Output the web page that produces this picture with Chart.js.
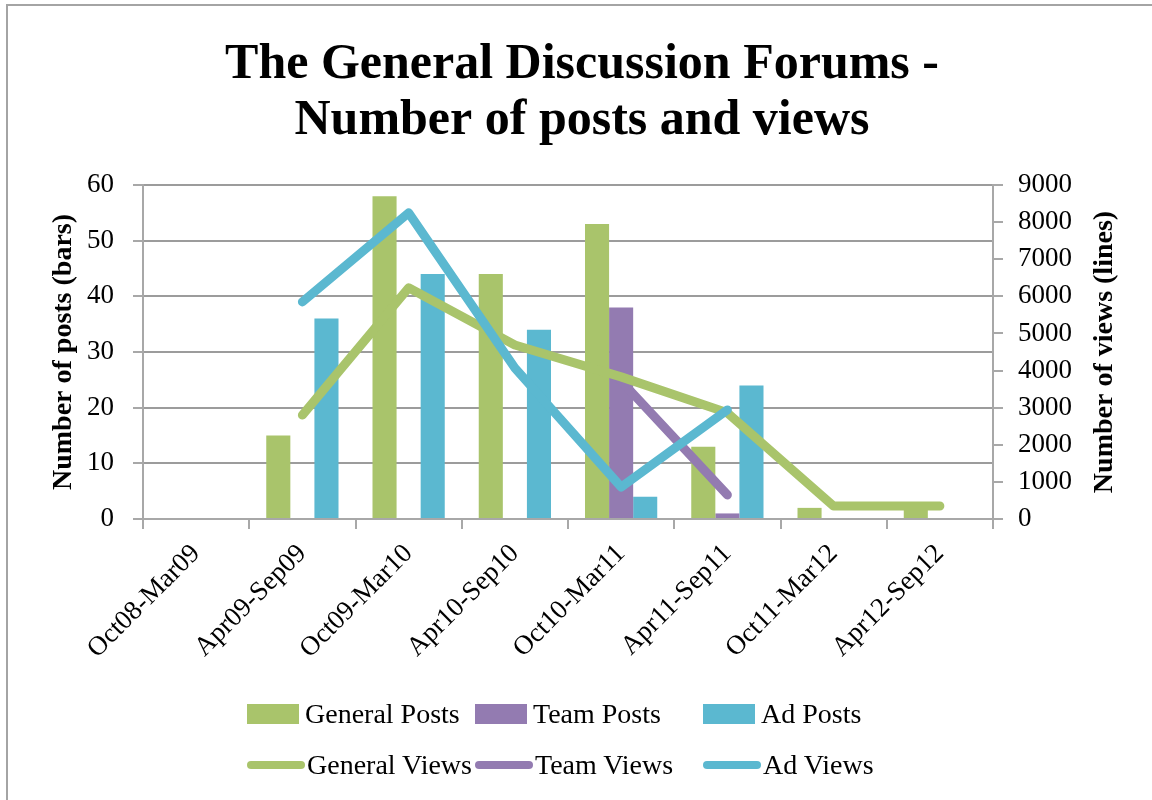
<!DOCTYPE html>
<html>
<head>
<meta charset="utf-8">
<title>The General Discussion Forums - Number of posts and views</title>
<script src="https://cdn.jsdelivr.net/npm/chart.js@4.4.1/dist/chart.umd.min.js"></script>
<style>
  html, body { margin: 0; padding: 0; background: #fff; overflow: hidden; }
  #wrap { position: relative; width: 1152px; height: 800px; }
  #frame {
    position: absolute; left: 6px; top: 4px; right: -10px; bottom: -10px;
    border-left: 2px solid #a4a4a4; border-top: 2px solid #a4a4a4; pointer-events: none;
  }
  #legend {
    position: absolute; left: 247px; top: 688px;
    display: grid; grid-template-columns: 228px 228px 228px;
    font: 28px "Liberation Serif", serif; color: #000;
  }
  .item { display: flex; align-items: center; height: 51px; white-space: nowrap; }
  .box { width: 52px; height: 20px; margin-right: 6px; flex: none; }
  .ln { width: 58px; height: 8px; border-radius: 4px; margin-right: 2px; flex: none; }
</style>
</head>
<body>
<div id="wrap">
  <canvas id="chart"></canvas>
  <div id="frame"></div>
  <div id="legend"></div>
</div>
<script>
// ---- data ----
const CATEGORIES = ['Oct08-Mar09', 'Apr09-Sep09', 'Oct09-Mar10', 'Apr10-Sep10',
                    'Oct10-Mar11', 'Apr11-Sep11', 'Oct11-Mar12', 'Apr12-Sep12'];

const GENERAL_POSTS = [0, 15, 58, 44, 53, 13, 2, 2];
const TEAM_POSTS    = [0, 0, 0, 0, 38, 1, 0, 0];
const AD_POSTS      = [0, 36, 44, 34, 4, 24, 0, 0];

const GENERAL_VIEWS = [null, 2800, 6230, 4690, 3830, 2860, 350, 350];
const TEAM_VIEWS    = [null, null, null, null, 3720, 650, null, null];
const AD_VIEWS      = [null, 5850, 8250, 4070, 860, 2940, null, null];

const POST_TICKS = [0, 10, 20, 30, 40, 50, 60];
const VIEW_TICKS = [0, 1000, 2000, 3000, 4000, 5000, 6000, 7000, 8000, 9000];

const TITLE = ['The General Discussion Forums -', 'Number of posts and views'];
const POSTS_AXIS_TITLE = 'Number of posts (bars)';
const VIEWS_AXIS_TITLE = 'Number of views (lines)';

const GREEN = '#A9C46B';
const PURPLE = '#937BB1';
const BLUE = '#5BB8D0';
const GRID = '#9c9c9c';
const AXIS = '#a8a8a8';
const FONT = '"Liberation Serif", serif';

Chart.defaults.color = '#000';
Chart.defaults.font.family = FONT;

function lineSet(label, data, color, order) {
  return {
    type: 'line', label, data, yAxisID: 'y1', order,
    borderColor: color, backgroundColor: color, borderWidth: 9,
    borderCapStyle: 'round', borderJoinStyle: 'round',
    pointRadius: 0, tension: 0, spanGaps: false,
  };
}

function barSet(label, data, color) {
  return { type: 'bar', label, data, yAxisID: 'y', order: 10, backgroundColor: color, borderWidth: 0 };
}

// the right axis title reads bottom-to-top, chart.js would draw it the other way
const viewsTitle = {
  id: 'viewsTitle',
  afterDraw(chart) {
    const { ctx, chartArea } = chart;
    const sc = chart.scales.y1;
    ctx.save();
    ctx.font = 'bold 28px ' + FONT;
    ctx.fillStyle = '#000';
    ctx.textAlign = 'center';
    ctx.textBaseline = 'middle';
    ctx.translate(sc.right - 47, (chartArea.top + chartArea.bottom) / 2);
    ctx.rotate(-Math.PI / 2);
    ctx.fillText(VIEWS_AXIS_TITLE, 0, 0);
    ctx.restore();
  }
};

const chart = new Chart(document.getElementById('chart'), {
  type: 'bar',
  data: {
    labels: CATEGORIES,
    datasets: [
      barSet('General Posts', GENERAL_POSTS, GREEN),
      barSet('Team Posts', TEAM_POSTS, PURPLE),
      barSet('Ad Posts', AD_POSTS, BLUE),
      lineSet('General Views', GENERAL_VIEWS, GREEN, 2),
      lineSet('Team Views', TEAM_VIEWS, PURPLE, 3),
      lineSet('Ad Views', AD_VIEWS, BLUE, 1),
    ],
  },
  options: {
    responsive: true,
    maintainAspectRatio: false,
    animation: false,
    layout: { padding: { left: 12, right: 0, top: 0, bottom: 120 } },
    datasets: { bar: { categoryPercentage: 0.68, barPercentage: 1.0 } },
    plugins: {
      legend: { display: false },
      tooltip: { enabled: false },
      title: {
        display: true,
        text: TITLE,
        color: '#000',
        font: { family: FONT, size: 50, weight: 'bold', lineHeight: 1.12 },
        padding: { top: 37, bottom: 36 },
      },
    },
    scales: {
      x: {
        afterFit: s => { s.height = 161; },
        grid: { offset: true, drawOnChartArea: false, drawTicks: true, tickLength: 10, color: AXIS, lineWidth: 2 },
        border: { display: true, color: AXIS, width: 2 },
        ticks: { autoSkip: false, maxRotation: 45, minRotation: 45, padding: 9, font: { size: 27 } },
      },
      y: {
        position: 'left',
        min: POST_TICKS[0], max: POST_TICKS[POST_TICKS.length - 1],
        afterFit: s => { s.width = 131; },
        afterBuildTicks: s => { s.ticks = POST_TICKS.map(v => ({ value: v })); },
        grid: { color: GRID, lineWidth: 2, tickLength: 10, tickColor: AXIS },
        border: { display: true, color: AXIS, width: 2 },
        ticks: { padding: 19, font: { size: 27 }, callback: v => String(v) },
        title: {
          display: true, text: POSTS_AXIS_TITLE,
          font: { size: 28, weight: 'bold' }, padding: { top: 35, bottom: 0 },
        },
      },
      y1: {
        position: 'right',
        min: VIEW_TICKS[0], max: VIEW_TICKS[VIEW_TICKS.length - 1],
        afterFit: s => { s.width = 159; },
        afterBuildTicks: s => { s.ticks = VIEW_TICKS.map(v => ({ value: v })); },
        grid: { drawOnChartArea: false, color: AXIS, lineWidth: 2, tickLength: 10 },
        border: { display: true, color: AXIS, width: 2 },
        ticks: { padding: 15, font: { size: 27 }, callback: v => String(v) },
      },
    },
  },
  plugins: [viewsTitle],
});

// legend, three per row like the original
const legend = document.getElementById('legend');
chart.data.datasets.forEach(ds => {
  const item = document.createElement('div');
  item.className = 'item';
  const mark = document.createElement('span');
  mark.className = ds.type === 'line' ? 'ln' : 'box';
  mark.style.background = ds.type === 'line' ? ds.borderColor : ds.backgroundColor;
  const txt = document.createElement('span');
  txt.textContent = ds.label;
  item.appendChild(mark);
  item.appendChild(txt);
  legend.appendChild(item);
});
</script>
</body>
</html>
